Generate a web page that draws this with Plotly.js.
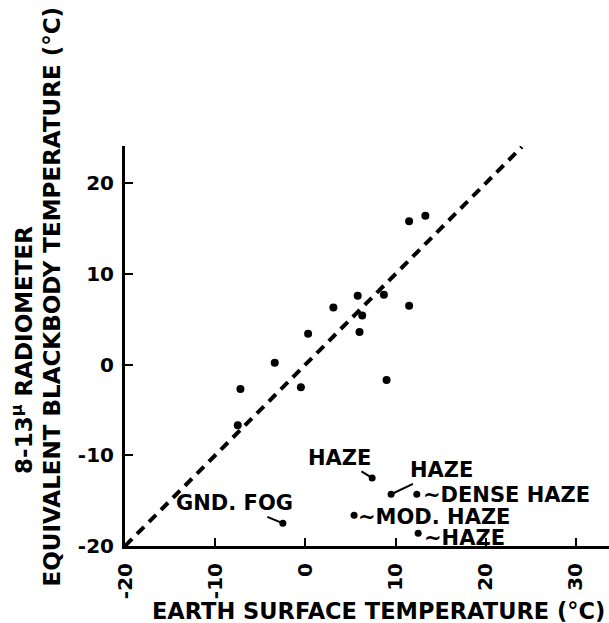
<!DOCTYPE html>
<html>
<head>
<meta charset="utf-8">
<script src="https://cdn.plot.ly/plotly-3.0.1.min.js"></script>
<style>html,body{margin:0;padding:0;background:#fff;}#chart{width:609px;height:623px;}</style>
</head>
<body>
<div id="chart"></div>
<script>
// Unlabeled observations
const earthTemp = [13.3, 11.5, 5.8, 8.7, 3.1, 11.5, 6.3, 6.0, 0.3, -3.4, -7.2, -0.5, -7.5, 9.0];
const radiometerTemp = [16.4, 15.8, 7.6, 7.7, 6.3, 6.5, 5.4, 3.6, 3.4, 0.2, -2.7, -2.5, -6.7, -1.7];

// Observations with weather notes
const noteNames = ["GND. FOG", "HAZE", "HAZE", "DENSE HAZE", "MOD. HAZE", "HAZE"];
const noteEarth = [-2.5, 7.4, 9.5, 12.35, 5.4, 12.5];
const noteRadiometer = [-17.5, -12.5, -14.3, -14.3, -16.6, -18.6];

// One-to-one reference line
const refLine = [-20, 24];

const xTicks = [-20, -10, 0, 10, 20, 30];
const yTicks = [-20, -10, 0, 10, 20];

const FONT = "DejaVu Sans, Liberation Sans, sans-serif";
const bold = (s) => ({family: FONT, size: s, color: "#000", weight: 700});

const traces = [
  {x: refLine, y: refLine, mode: "lines", line: {color: "#000", width: 4, dash: "10px,7px"}, hoverinfo: "skip"},
  {x: earthTemp, y: radiometerTemp, mode: "markers", marker: {color: "#000", size: 8}},
  {x: noteEarth, y: noteRadiometer, mode: "markers", marker: {color: "#000", size: 7}}
];

// Label placement (pixel offsets / style only)
const noteStyle = [
  {showarrow: true, ax: -48, ay: -20},
  {showarrow: true, ax: -33, ay: -20},
  {showarrow: true, ax: 50, ay: -24},
  {showarrow: false, prefix: "~", xshift: 4, yshift: -1},
  {showarrow: false, prefix: "~", xshift: 2, yshift: -2},
  {showarrow: false, prefix: "~", xshift: 4, yshift: -5}
];

const annotations = noteNames.map((name, i) => {
  const st = noteStyle[i];
  if (st.showarrow) {
    return {x: noteEarth[i], y: noteRadiometer[i], xref: "x", yref: "y", text: name,
      showarrow: true, arrowhead: 0, arrowwidth: 2, arrowcolor: "#000", ax: st.ax, ay: st.ay,
      standoff: 3, font: bold(21)};
  }
  return {x: noteEarth[i], y: noteRadiometer[i], xref: "x", yref: "y", text: st.prefix + name,
    showarrow: false, xanchor: "left", yanchor: "middle", xshift: st.xshift, yshift: st.yshift,
    font: bold(21)};
});

annotations.push(
  {xref: "paper", yref: "paper", x: 0.523, y: -0.1625, text: "EARTH SURFACE TEMPERATURE (°C)",
   showarrow: false, xanchor: "center", yanchor: "middle", font: bold(22.5)},
  {xref: "paper", yref: "paper", x: -0.213, y: 0.49, text: "8-13<sup>μ</sup> RADIOMETER",
   showarrow: false, textangle: -90, xanchor: "center", yanchor: "middle", font: bold(23)},
  {xref: "paper", yref: "paper", x: -0.15, y: 0.6225, text: "EQUIVALENT BLACKBODY TEMPERATURE (°C)",
   showarrow: false, textangle: -90, xanchor: "center", yanchor: "middle", font: bold(23)}
);

const layout = {
  width: 609, height: 623,
  margin: {l: 125, r: 0, t: 146, b: 77, pad: 0},
  paper_bgcolor: "#fff", plot_bgcolor: "#fff",
  showlegend: false,
  xaxis: {range: [-20, 33.66], tickvals: xTicks, ticktext: xTicks.map(String), ticks: "inside", ticklen: 8,
    tickwidth: 2, tickcolor: "#000", showline: true, linewidth: 3, linecolor: "#000",
    showgrid: false, zeroline: false, tickangle: -90, tickfont: bold(20), ticklabelstandoff: 6},
  yaxis: {range: [-20, 24.1], tickvals: yTicks, ticktext: yTicks.map(String), ticks: "inside", ticklen: 8,
    tickwidth: 2, tickcolor: "#000", showline: true, linewidth: 3, linecolor: "#000",
    showgrid: false, zeroline: false, tickfont: bold(20), ticklabelstandoff: 4},
  annotations: annotations
};

Plotly.newPlot("chart", traces, layout, {staticPlot: true, displayModeBar: false});
</script>
</body>
</html>
